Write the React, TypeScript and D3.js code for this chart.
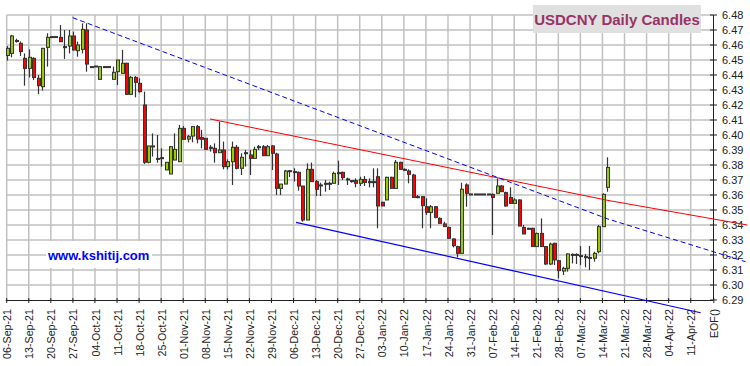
import * as d3 from 'd3';
import React, { useRef, useEffect } from 'react';

// daily candles, 06-Sep-21 .. 15-Mar-22 (weekdays)
const opens = [
  6.4530, 6.4544, 6.4630, 6.4611, 6.4511, 6.4444, 6.4511, 6.4378, 6.4322, 6.4584,
  6.4656, 6.4656, 6.4651, 6.4589, 6.4593, 6.4660, 6.4562, 6.4571, 6.4700, 6.4456,
  6.4460, 6.4371, 6.4456, 6.4456, 6.4371, 6.4422, 6.4411, 6.4478, 6.4271, 6.4384,
  6.4344, 6.4200, 6.3818, 6.3927, 6.3844, 6.3849, 6.3767, 6.3740, 6.3833, 6.3822,
  6.4044, 6.3973, 6.3993, 6.4056, 6.3984, 6.3978, 6.3918, 6.3911, 6.3882, 6.3900,
  6.3789, 6.3822, 6.3918, 6.3778, 6.3882, 6.3867, 6.3844, 6.3922, 6.3922, 6.3862,
  6.3927, 6.3873, 6.3644, 6.3673, 6.3762, 6.3756, 6.3751, 6.3660, 6.3433, 6.3771,
  6.3689, 6.3667, 6.3678, 6.3678, 6.3678, 6.3749, 6.3751, 6.3707, 6.3696, 6.3696,
  6.3678, 6.3704, 6.3689, 6.3689, 6.3722, 6.3551, 6.3567, 6.3718, 6.3644, 6.3818,
  6.3771, 6.3760, 6.3733, 6.3589, 6.3589, 6.3522, 6.3484, 6.3522, 6.3444, 6.3407,
  6.3384, 6.3307, 6.3256, 6.3211, 6.3667, 6.3607, 6.3607, 6.3607, 6.3607, 6.3607,
  6.3604, 6.3611, 6.3660, 6.3616, 6.3584, 6.3544, 6.3567, 6.3384, 6.3378, 6.3378,
  6.3256, 6.3344, 6.3256, 6.3140, 6.3278, 6.3162, 6.3093, 6.3111, 6.3204, 6.3204,
  6.3196, 6.3189, 6.3184, 6.3178, 6.3222, 6.3389, 6.3651
];
const highs = [
  6.4593, 6.4667, 6.4642, 6.4624, 6.4544, 6.4571, 6.4518, 6.4400, 6.4578, 6.4678,
  6.4656, 6.4656, 6.4733, 6.4700, 6.4700, 6.4689, 6.4622, 6.4744, 6.4744, 6.4456,
  6.4460, 6.4456, 6.4456, 6.4456, 6.4456, 6.4500, 6.4567, 6.4482, 6.4393, 6.4393,
  6.4378, 6.4289, 6.3927, 6.4011, 6.4000, 6.3911, 6.3818, 6.3927, 6.4011, 6.4067,
  6.4060, 6.4000, 6.4056, 6.4067, 6.4033, 6.3978, 6.3933, 6.3944, 6.4089, 6.3956,
  6.3838, 6.3956, 6.3933, 6.3878, 6.3900, 6.3900, 6.3922, 6.3933, 6.3933, 6.3933,
  6.3933, 6.3882, 6.3673, 6.3767, 6.3767, 6.3778, 6.3756, 6.3660, 6.3811, 6.3816,
  6.3700, 6.3682, 6.3700, 6.3689, 6.3756, 6.3829, 6.3756, 6.3716, 6.3700, 6.3711,
  6.3722, 6.3727, 6.3711, 6.3778, 6.3778, 6.3556, 6.3722, 6.3722, 6.3833, 6.3822,
  6.3778, 6.3771, 6.3740, 6.3600, 6.3589, 6.3578, 6.3533, 6.3527, 6.3451, 6.3422,
  6.3389, 6.3311, 6.3262, 6.3682, 6.3678, 6.3607, 6.3607, 6.3607, 6.3607, 6.3607,
  6.3611, 6.3711, 6.3667, 6.3622, 6.3651, 6.3578, 6.3571, 6.3400, 6.3382, 6.3382,
  6.3349, 6.3444, 6.3260, 6.3282, 6.3282, 6.3167, 6.3122, 6.3211, 6.3211, 6.3211,
  6.3260, 6.3207, 6.3260, 6.3222, 6.3400, 6.3611, 6.3851
];
const lows = [
  6.4496, 6.4518, 6.4616, 6.4527, 6.4329, 6.4384, 6.4367, 6.4273, 6.4296, 6.4456,
  6.4656, 6.4656, 6.4620, 6.4507, 6.4544, 6.4562, 6.4522, 6.4544, 6.4422, 6.4456,
  6.4460, 6.4371, 6.4456, 6.4456, 6.4371, 6.4333, 6.4411, 6.4267, 6.4271, 6.4251,
  6.4282, 6.3807, 6.3811, 6.3856, 6.3816, 6.3789, 6.3767, 6.3740, 6.3833, 6.3822,
  6.3971, 6.3951, 6.3951, 6.3944, 6.3911, 6.3904, 6.3889, 6.3816, 6.3882, 6.3771,
  6.3771, 6.3667, 6.3771, 6.3733, 6.3789, 6.3733, 6.3844, 6.3900, 6.3860, 6.3860,
  6.3767, 6.3600, 6.3600, 6.3673, 6.3720, 6.3689, 6.3629, 6.3422, 6.3433, 6.3689,
  6.3593, 6.3593, 6.3622, 6.3633, 6.3678, 6.3667, 6.3700, 6.3667, 6.3682, 6.3651,
  6.3660, 6.3660, 6.3651, 6.3651, 6.3378, 6.3527, 6.3567, 6.3644, 6.3644, 6.3771,
  6.3760, 6.3678, 6.3584, 6.3578, 6.3378, 6.3467, 6.3378, 6.3444, 6.3411, 6.3389,
  6.3311, 6.3251, 6.3184, 6.3211, 6.3522, 6.3607, 6.3607, 6.3607, 6.3607, 6.3607,
  6.3333, 6.3611, 6.3622, 6.3522, 6.3544, 6.3544, 6.3393, 6.3340, 6.3378, 6.3256,
  6.3256, 6.3256, 6.3133, 6.3133, 6.3133, 6.3044, 6.3067, 6.3089, 6.3144, 6.3140,
  6.3133, 6.3118, 6.3100, 6.3156, 6.3211, 6.3389, 6.3622
];
const closes = [
  6.4578, 6.4660, 6.4629, 6.4556, 6.4444, 6.4518, 6.4384, 6.4329, 6.4578, 6.4651,
  6.4656, 6.4656, 6.4622, 6.4589, 6.4660, 6.4567, 6.4600, 6.4704, 6.4473, 6.4456,
  6.4460, 6.4456, 6.4456, 6.4456, 6.4418, 6.4500, 6.4478, 6.4271, 6.4384, 6.4351,
  6.4289, 6.3818, 6.3927, 6.3927, 6.3844, 6.3849, 6.3818, 6.3922, 6.3904, 6.4044,
  6.3971, 6.3989, 6.4056, 6.3973, 6.3971, 6.3904, 6.3918, 6.3882, 6.3900, 6.3789,
  6.3822, 6.3918, 6.3778, 6.3851, 6.3882, 6.3844, 6.3904, 6.3922, 6.3862, 6.3922,
  6.3878, 6.3644, 6.3673, 6.3760, 6.3762, 6.3756, 6.3660, 6.3433, 6.3771, 6.3689,
  6.3638, 6.3667, 6.3678, 6.3678, 6.3744, 6.3749, 6.3716, 6.3707, 6.3696, 6.3678,
  6.3704, 6.3684, 6.3689, 6.3689, 6.3527, 6.3527, 6.3718, 6.3644, 6.3818, 6.3771,
  6.3767, 6.3738, 6.3584, 6.3589, 6.3529, 6.3484, 6.3522, 6.3451, 6.3411, 6.3389,
  6.3311, 6.3262, 6.3211, 6.3638, 6.3611, 6.3607, 6.3607, 6.3607, 6.3607, 6.3607,
  6.3584, 6.3660, 6.3622, 6.3527, 6.3544, 6.3567, 6.3393, 6.3340, 6.3378, 6.3256,
  6.3344, 6.3256, 6.3140, 6.3273, 6.3167, 6.3096, 6.3111, 6.3207, 6.3204, 6.3204,
  6.3196, 6.3189, 6.3184, 6.3211, 6.3389, 6.3604, 6.3784
];

const tickLabels = [
  "06-Sep-21", "13-Sep-21", "20-Sep-21", "27-Sep-21", "04-Oct-21", "11-Oct-21",
  "18-Oct-21", "25-Oct-21", "01-Nov-21", "08-Nov-21", "15-Nov-21", "22-Nov-21",
  "29-Nov-21", "06-Dec-21", "13-Dec-21", "20-Dec-21", "27-Dec-21", "03-Jan-22",
  "10-Jan-22", "17-Jan-22", "24-Jan-22", "31-Jan-22", "07-Feb-22", "14-Feb-22",
  "21-Feb-22", "28-Feb-22", "07-Mar-22", "14-Mar-22", "21-Mar-22", "28-Mar-22",
  "04-Apr-22", "11-Apr-22", "EOF()"
];
const priceTicks = d3.range(6.29, 6.4805, 0.01);

// trend lines: [bar index, price]
const redLine = [[45.8, 6.4107], [136, 6.3564], [167.6, 6.3400]];
const blueDashLine = [[14.7, 6.4782], [136, 6.3440], [167.2, 6.3155]];
const blueLine = [[65.3, 6.3418], [157.0, 6.2815]];

function CandleChart({ width, height }: { width: number; height: number }) {
  const ref = useRef<SVGSVGElement>(null);

  useEffect(() => {
    draw();
  }, []);

  const draw = () => {
    const svg = d3.select(ref.current);
    svg.selectAll("*").remove();

    const left = 6.7, right = 713, top = 15, bottom = 300;
    const x = d3.scaleLinear().domain([0, 155]).range([left, left + 4.413 * 155]);
    const y = d3.scaleLinear().domain([6.29, 6.48]).range([bottom, top]);

    svg.append("rect").attr("width", width).attr("height", height).attr("fill", "#fff");

    const grid = svg.append("g").attr("stroke", "#c0c0c0").attr("stroke-width", 1.5);
    priceTicks.slice(1).forEach(v => {
      grid.append("line").attr("x1", left).attr("x2", right)
        .attr("y1", y(v)).attr("y2", y(v));
    });
    tickLabels.forEach((_, i) => {
      if (i === tickLabels.length - 1) return;
      grid.append("line").attr("x1", x(i * 5)).attr("x2", x(i * 5))
        .attr("y1", top).attr("y2", bottom);
    });

    // watermark
    svg.append("rect").attr("x", 46).attr("y", 241).attr("width", 106).attr("height", 27).attr("fill", "#fff");
    svg.append("text").attr("x", 48).attr("y", 259.5)
      .attr("font-family", "Liberation Sans, Arial, sans-serif").attr("font-weight", "bold")
      .attr("font-size", 13).attr("fill", "#0000ff").text("www.kshitij.com");

    // x axis
    svg.append("line").attr("x1", left - 1).attr("x2", right).attr("y1", bottom + 0.5).attr("y2", bottom + 0.5)
      .attr("stroke", "#222").attr("stroke-width", 1);
    tickLabels.forEach((lab, i) => {
      const tx = i === tickLabels.length - 1 ? x(i * 5) + 1 : x(i * 5);
      svg.append("line").attr("x1", tx).attr("x2", tx).attr("y1", bottom - 2).attr("y2", bottom + 3)
        .attr("stroke", "#222");
      svg.append("text")
        .attr("transform", `translate(${tx + 4.6},309) rotate(-90)`)
        .attr("text-anchor", "end")
        .attr("font-family", "Liberation Sans, Arial, sans-serif").attr("font-size", 10.7)
        .attr("fill", "#222").text(lab);
    });

    // y axis on the right
    svg.append("line").attr("x1", right + 0.5).attr("x2", right + 0.5).attr("y1", top).attr("y2", bottom)
      .attr("stroke", "#222");
    priceTicks.forEach(v => {
      svg.append("line").attr("x1", right - 3).attr("x2", right + 4).attr("y1", y(v)).attr("y2", y(v))
        .attr("stroke", "#222");
      svg.append("text").attr("x", right + 9).attr("y", y(v) + 4)
        .attr("font-family", "Liberation Sans, Arial, sans-serif").attr("font-size", 11)
        .attr("fill", "#222").text(v.toFixed(2));
    });

    // candles
    const g = svg.append("g");
    opens.forEach((o, i) => {
      const c = closes[i];
      const cx = x(i + 0.25);
      const l = Math.round(cx) - 2;
      g.append("line").attr("x1", l + 1.5).attr("x2", l + 1.5)
        .attr("y1", y(highs[i])).attr("y2", y(lows[i]))
        .attr("stroke", "#333").attr("stroke-width", 1.2);
      const yt = y(Math.max(o, c));
      const h = Math.max(Math.abs(y(o) - y(c)), 1);
      g.append("rect").attr("x", l + 0.5).attr("y", yt).attr("width", 3).attr("height", h)
        .attr("fill", c > o ? "#99cc00" : c < o ? "#ff0000" : "#333")
        .attr("stroke", "#333").attr("stroke-width", 1);
    });

    // trend lines
    const line = d3.line<number[]>().x(d => x(d[0] + 0.25)).y(d => y(d[1]));
    svg.append("path").attr("d", line(redLine)).attr("fill", "none")
      .attr("stroke", "#ff0000").attr("stroke-width", 1);
    svg.append("path").attr("d", line(blueDashLine)).attr("fill", "none")
      .attr("stroke", "#0000ff").attr("stroke-width", 1).attr("stroke-dasharray", "5,3");
    svg.append("path").attr("d", line(blueLine)).attr("fill", "none")
      .attr("stroke", "#0000ff").attr("stroke-width", 1.2);

    // title
    svg.append("rect").attr("x", 533).attr("y", 5).attr("width", 168).attr("height", 28).attr("fill", "#e0e0e0");
    svg.append("text").attr("x", 617).attr("y", 25).attr("text-anchor", "middle")
      .attr("font-family", "Liberation Sans, Arial, sans-serif").attr("font-weight", "bold")
      .attr("font-size", 15).attr("fill", "#993366").text("USDCNY Daily Candles");
  };

  return (
    <svg ref={ref} width={width} height={height}
      style={{ position: "absolute", left: 0, top: 0, display: "block" }}>
    </svg>
  );
}

export default function App() {
  return <CandleChart width={750} height={366} />;
}
